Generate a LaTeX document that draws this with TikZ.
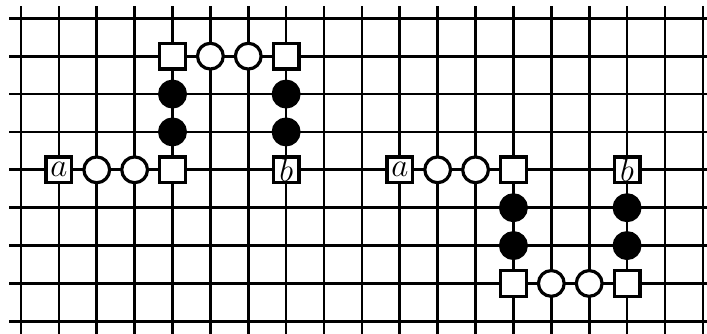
\documentclass[tikz,border=0pt]{standalone}
\begin{document}
\begin{tikzpicture}[x=1cm,y=1cm,
  gridline/.style={line width=2pt},
  vtx/.style={draw,line width=2.4pt,fill=white,inner sep=0pt,minimum size=0.68cm},
  sq/.style={vtx,rectangle,font=\Huge},
  oc/.style={vtx,circle},
  bc/.style={vtx,circle,fill=black},
  link/.style={line width=2pt}]
\useasboundingbox (-0.554,-0.309) rectangle (18.110,8.483);
\clip (-0.554,-0.309) rectangle (18.110,8.483);
% grid
\foreach \j in {0,...,8} \draw[gridline] (-0.31,\j) -- (18.5,\j);
\foreach \k in {0,...,18} \draw[gridline] (\k,-0.5) -- (\k,8.325);
% left configuration
\node[sq] (a1) at (1,4) {$a$};
\node[oc] (c1) at (2,4) {};
\node[oc] (c2) at (3,4) {};
\node[sq] (s1) at (4,4) {};
\node[bc] (f1) at (4,5) {};
\node[bc] (f2) at (4,6) {};
\node[sq] (s2) at (4,7) {};
\node[oc] (c3) at (5,7) {};
\node[oc] (c4) at (6,7) {};
\node[sq] (s3) at (7,7) {};
\node[bc] (f3) at (7,6) {};
\node[bc] (f4) at (7,5) {};
\node[sq] (b1) at (7,4) {$b$};
% right configuration
\node[sq] (a2) at (10,4) {$a$};
\node[oc] (c5) at (11,4) {};
\node[oc] (c6) at (12,4) {};
\node[sq] (s4) at (13,4) {};
\node[bc] (f5) at (13,3) {};
\node[bc] (f6) at (13,2) {};
\node[sq] (s5) at (13,1) {};
\node[oc] (c7) at (14,1) {};
\node[oc] (c8) at (15,1) {};
\node[sq] (s6) at (16,1) {};
\node[bc] (f7) at (16,2) {};
\node[bc] (f8) at (16,3) {};
\node[sq] (b2) at (16,4) {$b$};
% path connectors (on grid lines)
\draw[link] (a1) -- (c1) -- (c2) -- (s1) -- (f1) -- (f2) -- (s2) -- (c3) -- (c4) -- (s3) -- (f3) -- (f4) -- (b1);
\draw[link] (a2) -- (c5) -- (c6) -- (s4) -- (f5) -- (f6) -- (s5) -- (c7) -- (c8) -- (s6) -- (f7) -- (f8) -- (b2);
\end{tikzpicture}
\end{document}
